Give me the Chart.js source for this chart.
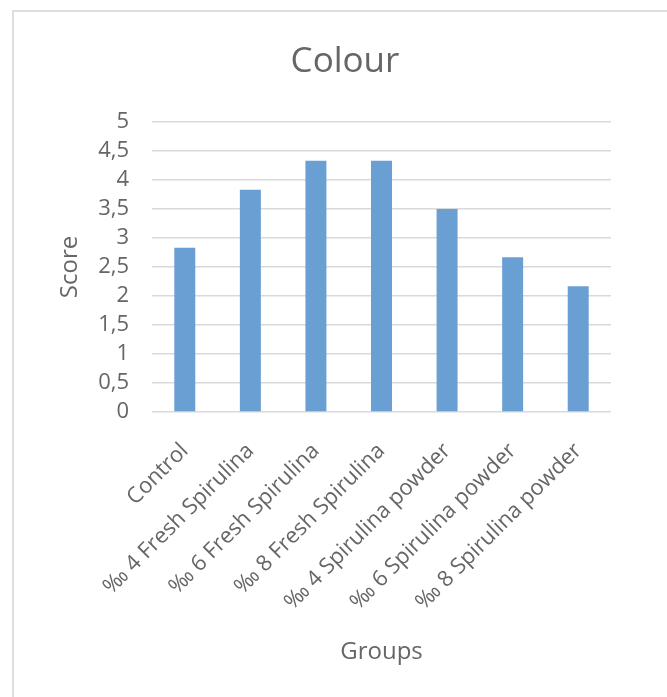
<!DOCTYPE html>
<html>
<head>
<meta charset="utf-8">
<script src="https://cdn.jsdelivr.net/npm/chart.js@4.4.0/dist/chart.umd.min.js"></script>
<style>
  html, body { margin: 0; padding: 0; overflow: hidden; background: #fff; }
  #frame { position: absolute; left: 12px; top: 10px; width: 720px; height: 720px;
           border-left: 2px solid #dedede; border-top: 2px solid #dedede; pointer-events: none; }
  canvas { position: absolute; left: 0; top: 0; }
</style>
</head>
<body>
<canvas id="colourChart" width="690" height="697"></canvas>
<div id="frame"></div>
<script>
var groups = ['Control', '‰ 4 Fresh Spirulina', '‰ 6 Fresh Spirulina', '‰ 8 Fresh Spirulina',
              '‰ 4 Spirulina powder', '‰ 6 Spirulina powder', '‰ 8 Spirulina powder'];
var scores = [2.83, 3.83, 4.33, 4.33, 3.5, 2.67, 2.17];
var scoreTicks = [0, 0.5, 1, 1.5, 2, 2.5, 3, 3.5, 4, 4.5, 5];

var textGrey = '#666666';
var fontName = "'Open Sans', sans-serif";

var ctx = document.getElementById('colourChart').getContext('2d');

// the chart frame runs past the right edge of the window, so the canvas does too
var colourChart = new Chart(ctx, {
    type: 'bar',
    data: {
        labels: groups,
        datasets: [{
            label: 'Score',
            data: scores,
            backgroundColor: '#6a9fd4',
            categoryPercentage: 1,
            barPercentage: 0.32
        }]
    },
    options: {
        responsive: false,
        animation: false,
        layout: { padding: 0 },
        plugins: {
            legend: { display: false },
            tooltip: { enabled: false },
            title: {
                display: true,
                text: 'Colour',
                color: textGrey,
                font: { family: fontName, size: 35, weight: 'normal' },
                padding: { top: 41, bottom: 39 }
            }
        },
        scales: {
            x: {
                grid: { display: false },
                border: { display: false },
                ticks: {
                    autoSkip: false,
                    maxRotation: 45,
                    minRotation: 45,
                    padding: 18,
                    labelOffset: 0,
                    color: textGrey,
                    font: { family: fontName, size: 22 }
                },
                title: {
                    display: true,
                    text: 'Groups',
                    color: textGrey,
                    font: { family: fontName, size: 24 },
                    padding: { top: 0, bottom: 30 }
                },
                afterFit: function(scale) { scale.height = 285; }
            },
            y: {
                min: 0,
                max: 5,
                afterBuildTicks: function(scale) {
                    scale.ticks = scoreTicks.map(function(v) { return { value: v }; });
                },
                grid: { color: '#d9d9d9', lineWidth: 1.5, drawTicks: false },
                border: { display: false },
                ticks: {
                    autoSkip: false,
                    padding: 23,
                    color: textGrey,
                    font: { family: fontName, size: 22 },
                    callback: function(value) { return String(value).replace('.', ','); }
                },
                title: {
                    display: true,
                    text: 'Score',
                    color: textGrey,
                    font: { family: fontName, size: 24 },
                    padding: { top: 56, bottom: 0 }
                },
                afterFit: function(scale) { scale.width = 152; }
            },
            // empty right-hand strip: keeps the plot where it is while the title centres on the frame
            spacer: {
                type: 'linear',
                position: 'right',
                grid: { display: false },
                border: { display: false },
                ticks: { display: false },
                afterFit: function(scale) { scale.width = 79; }
            }
        }
    }
});
</script>
</body>
</html>
